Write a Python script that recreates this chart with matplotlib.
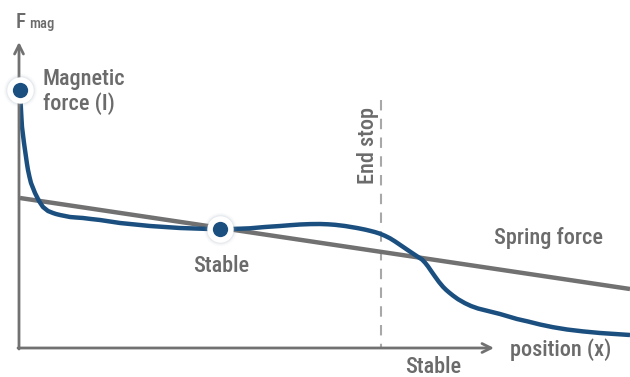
import matplotlib.pyplot as plt
from matplotlib import font_manager

# narrow font like the reference, if installed
names = set(f.name for f in font_manager.fontManager.ttflist)
font = 'Roboto Condensed' if 'Roboto Condensed' in names else 'Roboto'
plt.rcParams['font.family'] = [font, 'DejaVu Sans']

# magnetic force curve (pixel units, y down)
mag_x = [20, 20.5, 21, 21.5, 22, 23, 24, 25, 26, 27, 28, 29.5, 31, 33, 35, 37, 39, 41, 43,
         45.5, 48, 50.5, 53, 56, 60, 65, 70, 76, 83, 91, 100, 110, 120, 135, 150,
         165, 180, 195, 210, 220, 230, 240, 250, 265, 280, 290, 300, 310, 320, 328, 335,
         345, 357, 365, 370, 375, 380, 385, 390, 395, 400, 405, 410, 416, 422, 425, 428,
         431, 435, 439, 443, 446, 449, 453, 458, 465, 471, 478, 490, 500, 517, 528, 540, 553,
         567, 583, 600, 615, 630]
mag_y = [90, 100, 110, 119, 127, 135, 143, 150, 157, 164, 170, 177, 183, 188, 193, 197, 201, 204, 207,
         209, 211, 212, 213, 214, 215, 216, 217, 217.5, 218, 219, 220, 221.5, 223, 224.5, 226,
         227, 228, 228.5, 229, 229, 229, 228.7, 228.3, 227, 226, 225.2, 224.5, 224.1, 224, 224.3, 224.8,
         226, 228, 229.6, 230.8, 232.1, 233.7, 235.8, 238.3, 241.4, 244.8, 248.2, 251.6, 255.6, 259.5, 262.6, 266.4,
         270.8, 276.5, 282, 286.8, 289.8, 292.4, 295.6, 299.2, 303.2, 306, 308.5, 311.5, 314, 319, 321.5, 324.5, 327.2,
         329.5, 331.4, 333, 334, 335]
spring_x = [20, 630]
spring_y = [198, 289]

blue = '#1b4f7f'
gray = '#717171'
txt = '#6b6b6b'

fig = plt.figure(figsize=(6.3, 3.77), dpi=100)
ax = fig.add_axes([0, 0, 1, 1])
ax.set_xlim(0, 630)
ax.set_ylim(377, 0)
ax.axis('off')

# axes arrows
ax.annotate('', xy=(19, 42), xytext=(19, 349),
            arrowprops=dict(arrowstyle='->', color=gray, lw=2, mutation_scale=16, shrinkA=0, shrinkB=0))
ax.annotate('', xy=(494, 348), xytext=(18, 348),
            arrowprops=dict(arrowstyle='->', color=gray, lw=2, mutation_scale=16, shrinkA=0, shrinkB=0))

# end stop
ax.plot([381, 381], [100, 347], color='#a8a8a8', lw=1.5, ls=(0, (5, 4)))

ax.plot(spring_x, spring_y, color=gray, lw=3.2, solid_capstyle='butt')
ax.plot(mag_x, mag_y, color=blue, lw=3.2, solid_joinstyle='round', solid_capstyle='butt')

# markers with halo
for px, py in [(mag_x[0], mag_y[0]), (220, 229)]:
    for r, a in [(24, 0.05), (22, 0.08), (20.5, 0.12)]:
        ax.scatter([px], [py], s=r**2, color='#9aa8b8', alpha=a, lw=0, zorder=4)
    ax.scatter([px], [py], s=19**2, color='white', lw=0, zorder=5)
    ax.scatter([px], [py], s=11**2, color=blue, lw=0, zorder=6)

kw = dict(color=txt, va='baseline', fontweight='medium')
ax.text(16, 28, 'F', fontsize=15, **kw)
ax.text(29.5, 28, 'mag', fontsize=10.5, **kw)
ax.text(43, 85, 'Magnetic', fontsize=16, **kw)
ax.text(43, 110, 'force (I)', fontsize=16, **kw)
ax.text(221, 272, 'Stable', fontsize=16, ha='center', **kw)
ax.text(433, 373, 'Stable', fontsize=16, ha='center', **kw)
ax.text(549, 244, 'Spring force', fontsize=16, ha='center', **kw)
ax.text(561, 356, 'position (x)', fontsize=16, ha='center', **kw)
ax.text(368, 146, 'End stop', fontsize=16, color=txt, fontweight='medium',
        rotation=90, va='center', ha='center')

fig.savefig('out.png', dpi=100)
